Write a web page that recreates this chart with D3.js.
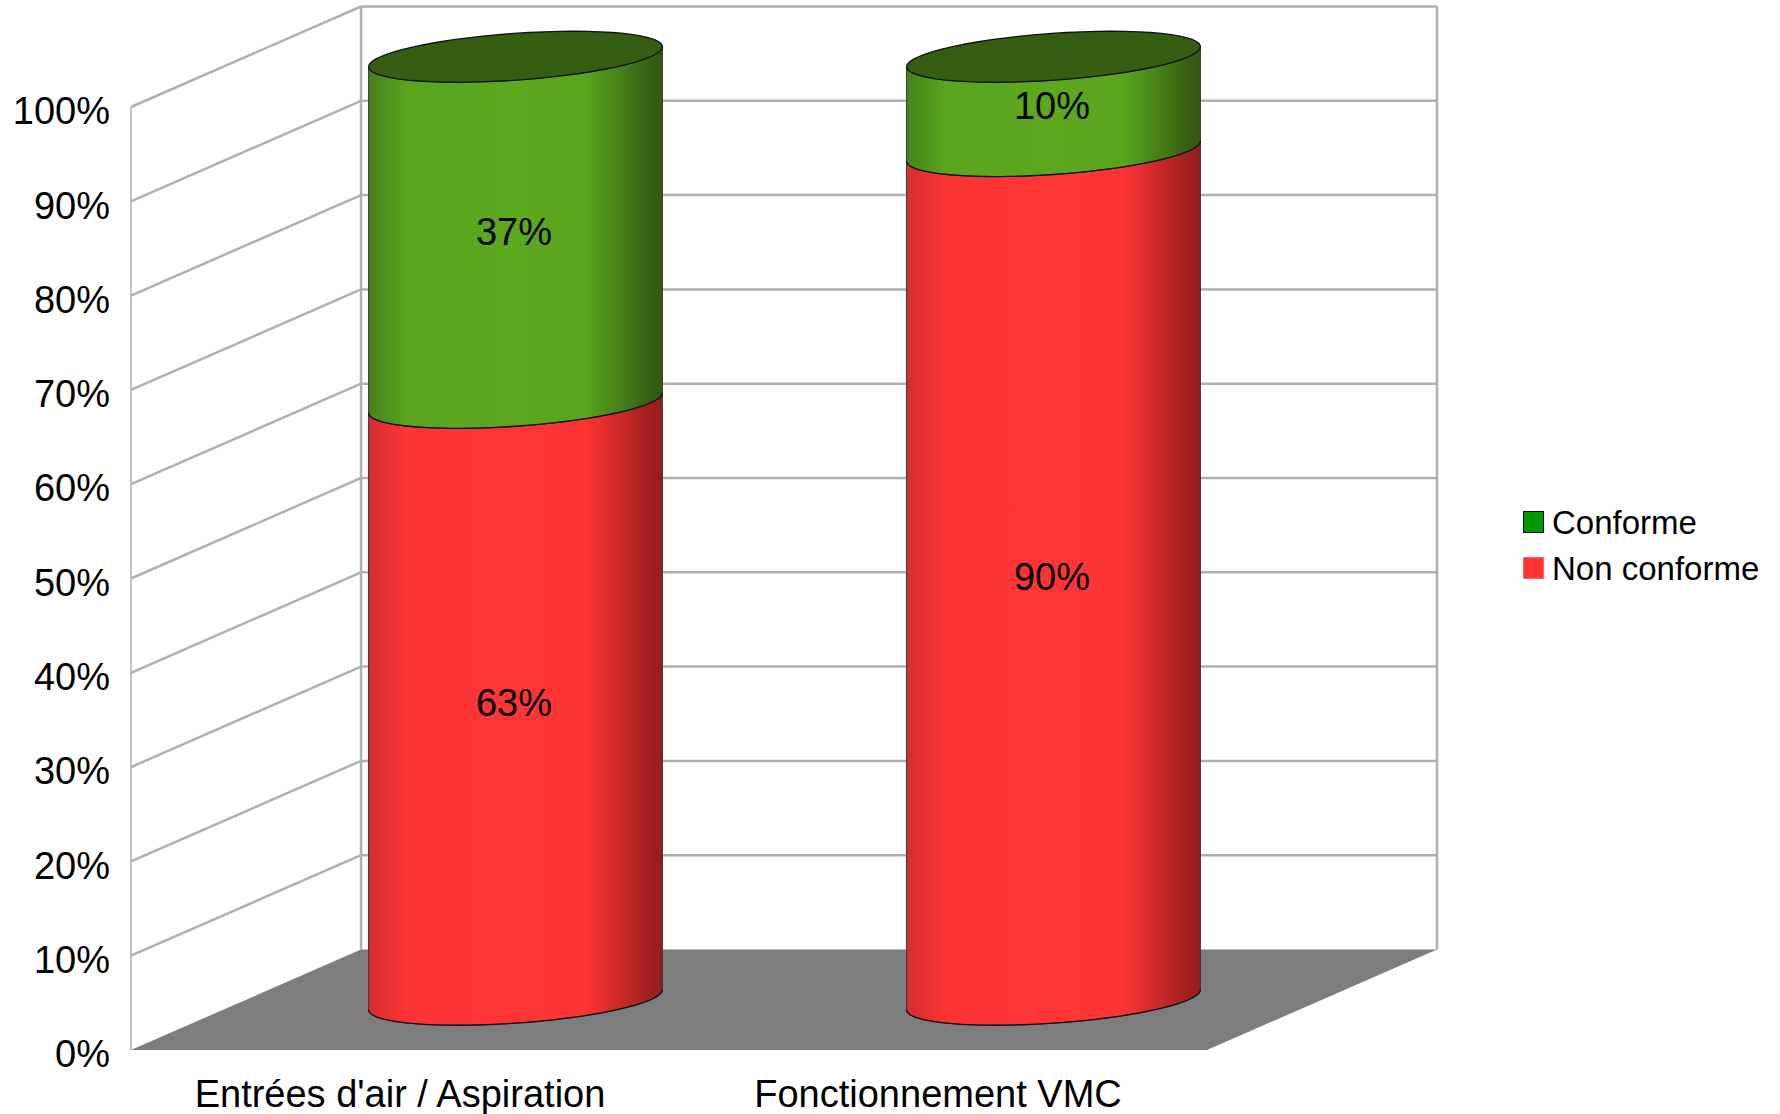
<!DOCTYPE html>
<html>
<head>
<meta charset="utf-8">
<script src="https://cdnjs.cloudflare.com/ajax/libs/d3/7.8.5/d3.min.js"></script>
<style>
html,body{margin:0;padding:0;background:#fff}
svg{display:block}
text{font-family:"Liberation Sans",Arial,sans-serif;fill:#000}
</style>
</head>
<body>
<svg id="chart" width="1780" height="1114"></svg>
<script>
const categories = ["Entrées d'air / Aspiration", "Fonctionnement VMC"];
const seriesNames = ["Non conforme", "Conforme"];
const nonConforme = [63.3, 90];
const conforme = [36.7, 10];
const yTicks = [0, 10, 20, 30, 40, 50, 60, 70, 80, 90, 100];
const legendOrder = ["Conforme", "Non conforme"];

const W = 1780, H = 1114;
const depth = {x: 230, y: -100.5};
const svg = d3.select("#chart");
const x = d3.scaleBand().domain(categories).range([131, 1207]);
const y = d3.scaleLinear().domain([0, 100]).range([1050, 107]);
const pct = d => Math.round(d) + "%";

const gridColor = "#b0b0b0";
const defs = svg.append("defs");
const palette = {
  "Conforme": {stops: ["#47821b", "#5aa41e", "#5ca81e", "#5aa41e", "#365f13", "#33590f"], cap: "#355e13", swatch: "#009900", border: "#000"},
  "Non conforme": {stops: ["#d42d2d", "#fb3434", "#ff3535", "#fb3434", "#a02020", "#941d1d"], cap: "#941d1d", swatch: "#ff3333", border: "#ff6a6a"}
};
const stopAt = [0, 0.13, 0.5, 0.74, 0.96, 1];
Object.entries(palette).forEach(([name, p], i) => {
  const g = defs.append("linearGradient").attr("id", "grad" + i).attr("x1", 0).attr("x2", 1).attr("y1", 0).attr("y2", 0);
  p.stops.forEach((c, j) => g.append("stop").attr("offset", stopAt[j]).attr("stop-color", c));
  p.grad = "url(#grad" + i + ")";
});

// floor
const floor = [[x.range()[0], y(0)], [x.range()[1], y(0)], [x.range()[1] + depth.x, y(0) + depth.y], [x.range()[0] + depth.x, y(0) + depth.y]];

// walls
const x0 = x.range()[0], x1 = x.range()[1];
const grid = svg.append("g").attr("stroke", gridColor).attr("stroke-width", 2.5).attr("fill", "none");
grid.selectAll("path.side").data(yTicks.slice(1)).join("path").attr("class", "side")
  .attr("d", d => d3.line()([[x0, y(d)], [x0 + depth.x, y(d) + depth.y]]));
grid.selectAll("path.back").data(yTicks.slice(1)).join("path").attr("class", "back")
  .attr("d", d => d3.line()([[x0 + depth.x, y(d) + depth.y], [x1 + depth.x, y(d) + depth.y]]));
grid.append("path").attr("d", d3.line()([[x0 + depth.x, y(100) + depth.y], [x0 + depth.x, y(0) + depth.y]]));
grid.append("path").attr("d", d3.line()([[x1 + depth.x, y(100) + depth.y], [x1 + depth.x, y(0) + depth.y]]));
grid.append("path").attr("d", d3.line()([[x0, y(100)], [x0, y(0)]])).attr("stroke-width", 1.5);
svg.append("polygon").attr("points", floor.join(" ")).attr("fill", "#7d7d7d");

// axes labels
const yAxis = svg.append("g").attr("transform", `translate(${x0},0)`)
  .call(d3.axisLeft(y).tickValues(yTicks).tickFormat(pct).tickSize(0).tickPadding(21));
yAxis.select(".domain").remove();
yAxis.selectAll("text").attr("font-size", 38).attr("font-family", '"Liberation Sans"').attr("dy", "0.44em");

const xAxis = svg.append("g").attr("transform", `translate(0,${y(0)})`)
  .call(d3.axisBottom(x).tickSize(0).tickPadding(0));
xAxis.select(".domain").remove();
xAxis.selectAll("text").attr("font-size", 38).attr("font-family", '"Liberation Sans"').attr("dy", 0).attr("y", 57);

// cylinders
const rx = 135, ex = 58, ey = 25.5;
const t0 = Math.atan2(ex, rx);
const tSteps = d3.range(0, 1.0001, 1 / 60);
const ringPoint = (cx, cy, t) => [cx + rx * Math.cos(t) + ex * Math.sin(t), cy - ey * Math.sin(t)];
const frontArc = (cx, cy) => tSteps.map(s => ringPoint(cx, cy, t0 - Math.PI * s));
const fullRing = (cx, cy) => tSteps.map(s => ringPoint(cx, cy, 2 * Math.PI * s));
const line = d3.line();
const centerX = c => x(c) + x.bandwidth() / 2 + depth.x / 2 + 0.5;
const centerY = v => y(v) + depth.y / 2;

const stacks = [nonConforme, conforme];
const bars = svg.append("g");
categories.forEach((c, ci) => {
  let base = 0;
  const cx = centerX(c);
  stacks.forEach((vals, si) => {
    const p = palette[seriesNames[si]];
    const top = base + vals[ci];
    const lower = frontArc(cx, centerY(base));
    const upper = frontArc(cx, centerY(top)).reverse();
    bars.append("path").attr("d", line(lower.concat(upper)) + "Z")
      .attr("fill", p.grad).attr("stroke", "#3a3a3a").attr("stroke-width", 1);
    bars.append("path").attr("d", line(lower)).attr("fill", "none").attr("stroke", "#111").attr("stroke-width", 1.3);
    base = top;
  });
  const last = palette[seriesNames[seriesNames.length - 1]];
  bars.append("path").attr("d", line(fullRing(cx, centerY(base))) + "Z")
    .attr("fill", last.cap).attr("stroke", "#111").attr("stroke-width", 1.3);

  base = 0;
  stacks.forEach(vals => {
    const v = vals[ci];
    bars.append("text").attr("x", cx - 1.5).attr("y", centerY(base + v / 2)).attr("dy", "0.39em")
      .attr("text-anchor", "middle").attr("font-size", 38).text(pct(v));
    base += v;
  });
});

// legend
const legendY = d3.scalePoint().domain(legendOrder).range([522, 568]);
const legend = svg.append("g").selectAll("g").data(legendOrder).join("g")
  .attr("transform", d => `translate(1523,${legendY(d)})`);
legend.append("rect").attr("x", 0.5).attr("y", -10.5).attr("width", 20).attr("height", 21)
  .attr("fill", d => palette[d].swatch).attr("stroke", d => palette[d].border).attr("stroke-width", 1);
legend.append("text").attr("x", 29).attr("dy", "0.36em").attr("font-size", 33).text(d => d);
</script>
</body>
</html>
